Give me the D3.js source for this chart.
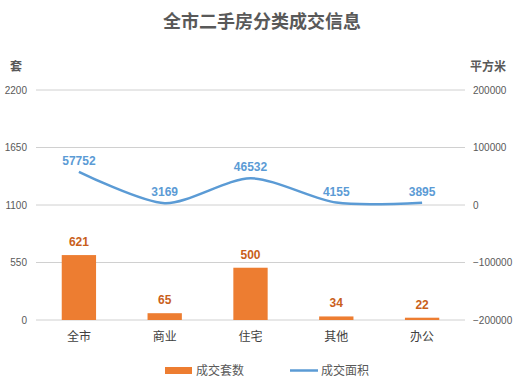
<!DOCTYPE html>
<html>
<head>
<meta charset="utf-8">
<script src="https://cdn.jsdelivr.net/npm/d3@7"></script>
<style>
  body { margin: 0; background: #fff; }
  text { font-family: "Noto Sans CJK SC", "Noto Sans", sans-serif; }
  .num { font-family: "Liberation Sans", Arial, sans-serif; }
</style>
</head>
<body>
<div id="chart"></div>
<script>
// data
const categories = ["全市", "商业", "住宅", "其他", "办公"];
const dealCount = [621, 65, 500, 34, 22];        // 成交套数
const dealArea = [57752, 3169, 46532, 4155, 3895]; // 成交面积
const leftTicks = [0, 550, 1100, 1650, 2200];
const rightTicks = [-200000, -100000, 0, 100000, 200000];

const width = 519, height = 387;
const margin = {top: 90, right: 54, bottom: 67, left: 36};

const svg = d3.select("#chart").append("svg")
  .attr("width", width)
  .attr("height", height);

const x = d3.scaleBand()
  .domain(categories)
  .range([margin.left, width - margin.right])
  .paddingInner(0.6).paddingOuter(0.3);

const yL = d3.scaleLinear().domain([0, 2200]).range([height - margin.bottom, margin.top]);
const yR = d3.scaleLinear().domain([-200000, 200000]).range([height - margin.bottom, margin.top]);

// title
svg.append("text")
  .attr("x", 262).attr("y", 28)
  .attr("text-anchor", "middle")
  .style("font-size", "18px").style("font-weight", "bold")
  .attr("fill", "#595959")
  .text("全市二手房分类成交信息");

// gridlines
svg.append("g").selectAll("line").data(leftTicks).join("line")
  .attr("x1", margin.left).attr("x2", width - margin.right)
  .attr("y1", d => yL(d)).attr("y2", d => yL(d))
  .attr("stroke", "#d0d0d0").attr("stroke-width", 1);

// left axis
const gL = svg.append("g")
  .attr("transform", "translate(" + (margin.left - 9) + ",0)")
  .call(d3.axisLeft(yL).tickValues(leftTicks).tickSize(0).tickPadding(0).tickFormat(d => d));
gL.select(".domain").remove();
gL.selectAll("text").attr("class", "num").style("font-size", "10px").attr("fill", "#595959");

// right axis
const gR = svg.append("g")
  .attr("transform", "translate(" + (width - margin.right + 8) + ",0)")
  .call(d3.axisRight(yR).tickValues(rightTicks).tickSize(0).tickPadding(0)
    .tickFormat(d => d < 0 ? "\u2212" + Math.abs(d) : d));
gR.select(".domain").remove();
gR.selectAll("text").attr("class", "num").style("font-size", "10px").attr("fill", "#595959");

// axis titles
svg.append("text").attr("x", 16).attr("y", 71).attr("text-anchor", "middle")
  .style("font-size", "12px").style("font-weight", "bold").attr("fill", "#595959").text("套");
svg.append("text").attr("x", 488).attr("y", 71).attr("text-anchor", "middle")
  .style("font-size", "12px").style("font-weight", "bold").attr("fill", "#595959").text("平方米");

// category axis
const gX = svg.append("g")
  .attr("transform", "translate(0," + (height - margin.bottom) + ")")
  .call(d3.axisBottom(x).tickSize(0).tickPadding(12));
gX.select(".domain").remove();
gX.selectAll("text").style("font-size", "12px").attr("fill", "#404040");

// bars
svg.append("g").selectAll("rect").data(dealCount).join("rect")
  .attr("x", (d, i) => x(categories[i]))
  .attr("y", d => yL(d))
  .attr("width", x.bandwidth())
  .attr("height", d => yL(0) - yL(d))
  .attr("fill", "#ED7D31");

svg.append("g").selectAll("text").data(dealCount).join("text")
  .attr("class", "num")
  .attr("x", (d, i) => x(categories[i]) + x.bandwidth() / 2)
  .attr("y", d => yL(d) - 9)
  .attr("text-anchor", "middle")
  .style("font-size", "12px").style("font-weight", "bold")
  .attr("fill", "#C9601A")
  .text(d => d);

// line
const line = d3.line()
  .x((d, i) => x(categories[i]) + x.bandwidth() / 2)
  .y(d => yR(d))
  .curve(d3.curveCardinal.tension(0.2));

svg.append("path")
  .datum(dealArea)
  .attr("d", line)
  .attr("fill", "none")
  .attr("stroke", "#5B9BD5")
  .attr("stroke-width", 2.5);

svg.append("g").selectAll("text").data(dealArea).join("text")
  .attr("class", "num")
  .attr("x", (d, i) => x(categories[i]) + x.bandwidth() / 2)
  .attr("y", d => yR(d) - 7)
  .attr("text-anchor", "middle")
  .style("font-size", "12px").style("font-weight", "bold")
  .attr("fill", "#5B9BD5")
  .text(d => d);

// legend
const lg = svg.append("g");
lg.append("rect").attr("x", 165).attr("y", 367).attr("width", 27).attr("height", 7).attr("fill", "#ED7D31");
lg.append("text").attr("x", 196).attr("y", 375).style("font-size", "12px").attr("fill", "#595959").text("成交套数");
lg.append("line").attr("x1", 290).attr("x2", 318).attr("y1", 370.5).attr("y2", 370.5)
  .attr("stroke", "#5B9BD5").attr("stroke-width", 2.5);
lg.append("text").attr("x", 321).attr("y", 375).style("font-size", "12px").attr("fill", "#595959").text("成交面积");
</script>
</body>
</html>
